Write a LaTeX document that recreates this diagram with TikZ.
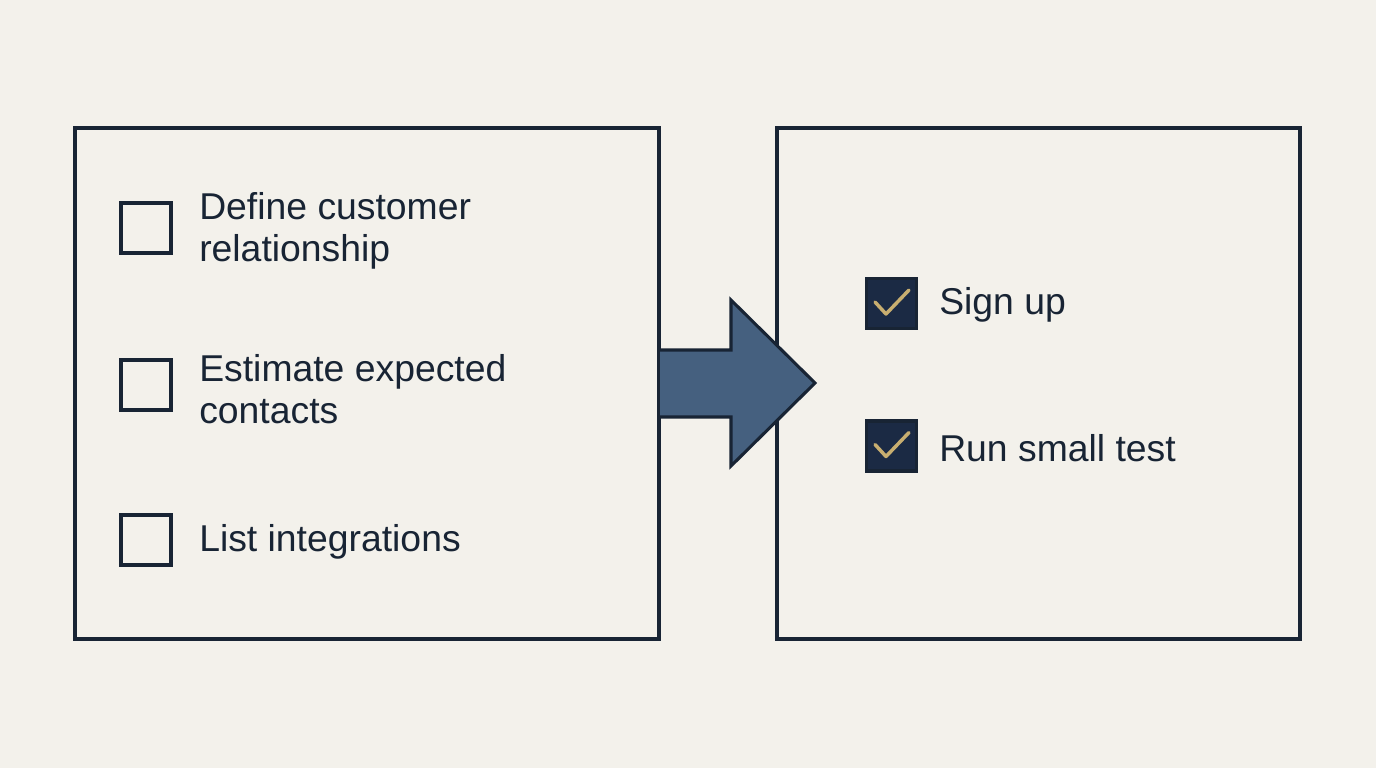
\documentclass[tikz,border=0pt]{standalone}
\usepackage{fontspec}
\setmainfont{Liberation Sans}
\definecolor{bg}{RGB}{243,241,235}
\definecolor{ink}{RGB}{24,36,52}
\definecolor{arrowfill}{RGB}{69,96,127}
\definecolor{boxfill}{RGB}{27,42,68}
\definecolor{gold}{RGB}{200,174,112}
\begin{document}
\begin{tikzpicture}[x=0.75pt,y=-0.75pt,
  panel/.style={draw=ink,line width=2.3pt,inner sep=0pt},
  cbox/.style={draw=ink,line width=2.3pt,minimum size=37.5pt,inner sep=0pt},
  cboxdone/.style={cbox,fill=boxfill},
  item/.style={anchor=west,inner sep=0pt,align=left,text=ink,font=\fontsize{28}{31}\selectfont},
  tick/.style={draw=gold,line width=2.6pt,line cap=round,line join=round}]
\fill[bg] (0,0) rectangle (1376,768);
\useasboundingbox (0,0) rectangle (1376,768);
% panels
\draw[panel] (75,128) rectangle (659,639);
\draw[panel] (777,128) rectangle (1300,639);
% left items
\node[cbox] (c1) at (146,228) {};
\node[item] (t1) at (199,231) {Define customer\\relationship};
\node[cbox] (c2) at (146,385) {};
\node[item] (t2) at (199,389) {Estimate expected\\contacts};
\node[cbox] (c3) at (146,540) {};
\node[item] (t3) at (199,542) {List integrations};
% right items
\node[cboxdone] (d1) at (891.5,303.5) {};
\draw[tick] (875,302) -- (886,314) -- (909,290);
\node[item] (u1) at (939,305) {Sign up};
\node[cboxdone] (d2) at (891.5,446) {};
\draw[tick] (875,444.5) -- (886,456.5) -- (909,432.5);
\node[item] (u2) at (939,448) {Run small test};
% arrow
\draw[ink,fill=arrowfill,line width=2.3pt,line join=miter]
  (660,350) -- (731,350) -- (731,300) -- (815,383) -- (731,466) -- (731,417) -- (660,417);
\end{tikzpicture}
\end{document}
